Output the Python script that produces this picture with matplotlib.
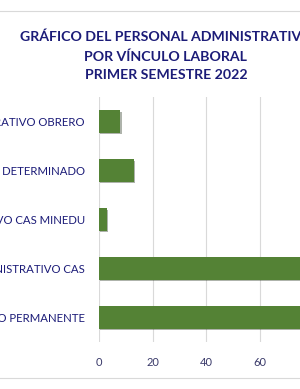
import matplotlib.pyplot as plt
import matplotlib.patheffects as pe
from matplotlib.lines import Line2D

# datos (de abajo hacia arriba)
categorias = ['PERSONAL ADMINISTRATIVO PERMANENTE',
              'PERSONAL ADMINISTRATIVO CAS',
              'PERSONAL ADMINISTRATIVO CAS MINEDU',
              'PERSONAL A PLAZO DETERMINADO',
              'PERSONAL ADMINISTRATIVO OBRERO']
valores = [92, 95, 3, 13, 8]
ticks = [0, 20, 40, 60, 80, 100]

azul = '#1c1c78'
verde = '#548235'

plt.rcParams['font.family'] = ['Lato', 'DejaVu Sans']

fig = plt.figure(figsize=(3.0, 3.89), dpi=100)
ax = fig.add_axes([0.329, 0.1208, 0.897, 0.6298])

bars = ax.barh(range(len(categorias)), valores, height=0.46, color=verde, zorder=3)
for b in bars:
    b.set_path_effects([pe.SimplePatchShadow(offset=(1.2, -1.2), alpha=0.35), pe.Normal()])

ax.set_xlim(0, 100)
ax.set_ylim(-0.5, len(categorias) - 0.5)
ax.set_xticks(ticks)
ax.set_xticklabels([str(t) for t in ticks], fontsize=8, color='#3a3a6a')
ax.set_yticks(range(len(categorias)))
ax.set_yticklabels(categorias, fontsize=8.2, color=azul)
ax.tick_params(axis='both', length=0)
ax.tick_params(axis='y', pad=10)
ax.tick_params(axis='x', pad=11)
ax.grid(axis='x', color='#d9d9d9', linewidth=0.8, zorder=0)
for s in ax.spines.values():
    s.set_visible(False)

fig.text(0.553, 1 - 56 / 389, 'GRÁFICO DEL PERSONAL ADMINISTRATIVO\nPOR VÍNCULO LABORAL\nPRIMER SEMESTRE 2022',
         ha='center', va='center', fontsize=10.2, fontweight='bold', color=azul, linespacing=1.65)

# borde del area del grafico
for yy in [1 - 10.7 / 389, 1 - 377.7 / 389]:
    fig.add_artist(Line2D([0, 1], [yy, yy], color='#d9d9d9', linewidth=0.8, transform=fig.transFigure))

fig.savefig('out.png', dpi=100)
